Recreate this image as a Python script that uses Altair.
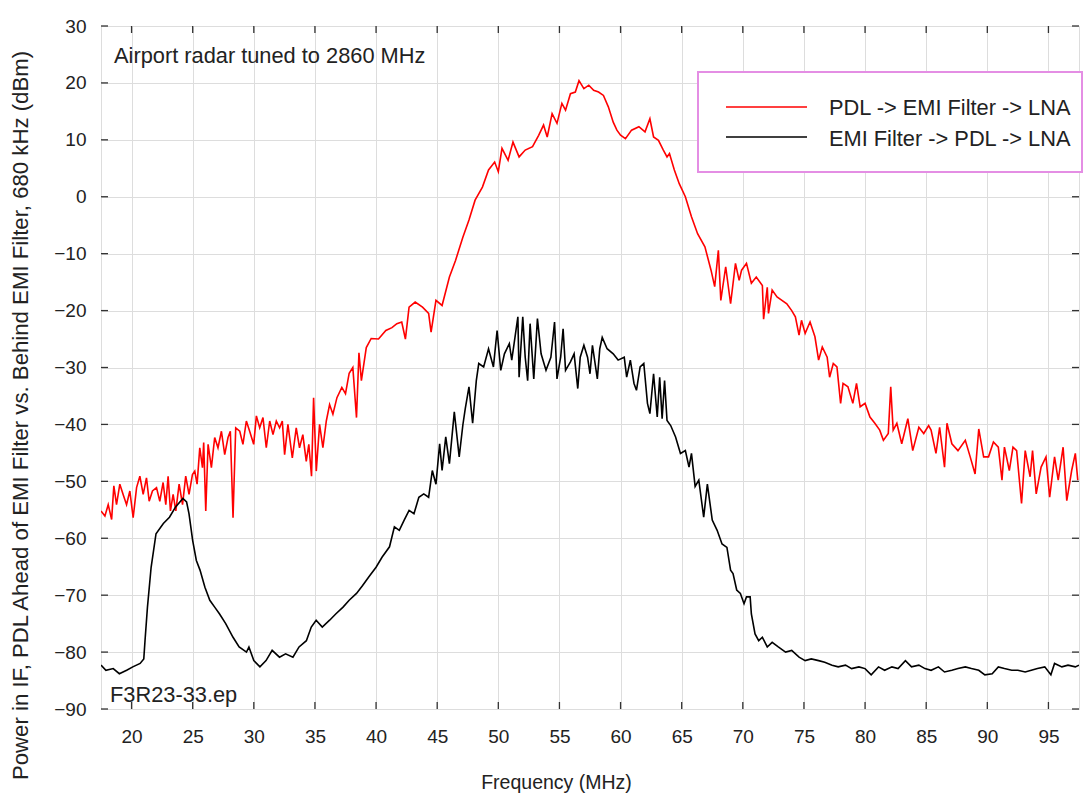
import altair as alt
import pandas as pd

series_names = ["PDL -> EMI Filter -> LNA", "EMI Filter -> PDL -> LNA"]
series_colors = ["#ff0000", "#000000"]

red_freq = [
    17.5, 17.82, 18.09, 18.37, 18.55, 18.77, 19.04, 19.31, 19.59, 19.86,
    20.13, 20.41, 20.68, 20.95, 21.22, 21.44, 21.71, 22.04, 22.31, 22.58,
    22.80, 22.99, 23.18, 23.40, 23.62, 23.89, 24.17, 24.43, 24.70, 24.98,
    25.17, 25.36, 25.58, 25.80, 25.90, 26.07, 26.26, 26.53, 26.80, 27.07,
    27.35, 27.62, 27.89, 28.08, 28.30, 28.52, 28.85, 29.11, 29.39, 29.66,
    29.99, 30.21, 30.48, 30.75, 31.02, 31.30, 31.57, 31.84, 32.11, 32.33,
    32.52, 32.79, 33.15, 33.47, 33.74, 34.01, 34.29, 34.50, 34.72, 34.89,
    35.11, 35.38, 35.65, 35.93, 36.2, 36.47, 36.8,
    37.2, 37.5, 37.8, 38.1, 38.4, 38.6, 38.8, 39.2, 39.6, 40.2,
    40.8, 41.3, 41.7, 42.1, 42.4, 42.7, 43.2, 43.8, 44.3, 44.5,
    44.9, 45.4, 46.0, 46.5, 47.1, 47.6, 48.1, 48.7, 49.2, 49.7,
    50.0, 50.3, 50.8, 51.2, 51.7, 52.2, 52.8, 53.3, 53.7, 54.0,
    54.4, 54.8, 55.2, 55.5, 55.9, 56.3, 56.6, 57.0, 57.4, 57.8,
    58.2, 58.6, 59.0, 59.4, 59.7, 60.0, 60.4, 60.9, 61.5, 62.0,
    62.4, 62.7, 63.1, 63.5, 63.8, 64.0, 64.4, 64.8, 65.3, 65.8,
    66.3, 66.9, 67.4, 67.7, 68.0, 68.2, 68.6, 69.0, 69.4, 69.7,
    69.9, 70.3, 70.7, 71.1, 71.6, 71.7, 72.0, 72.1, 72.4, 72.8,
    73.2, 73.6, 74.0, 74.3, 74.6, 74.8, 75.1, 75.5, 75.9, 76.2,
    76.5, 76.9, 77.1, 77.4, 77.7, 78.0, 78.2, 78.6, 79.0, 79.3,
    79.6, 80.0, 80.4, 80.8, 81.2, 81.5, 81.9, 82.1, 82.3, 82.6,
    83.0, 83.5, 83.9, 84.4, 84.8, 85.2, 85.4, 85.8, 86.1, 86.5,
    86.7, 87.1, 87.6, 88.2, 88.6, 89.0, 89.3, 89.7, 90.1, 90.5,
    90.9, 91.2, 91.4, 91.8, 92.1, 92.4, 92.8, 93.1, 93.5, 93.7,
    94.0, 94.4, 94.8, 95.1, 95.5, 95.8, 96.2, 96.5, 96.9, 97.2, 97.4,
]
red_dbm = [
    -55.2, -56.1, -54.1, -56.7, -50.8, -54.1, -50.5, -52.3, -54.1, -51.7,
    -56.4, -51.1, -49.1, -52.3, -49.4, -53.5, -51.7, -51.1, -53.5, -50.2,
    -54.1, -49.1, -55.2, -52.3, -55.2, -50.5, -54.1, -49.1, -52.3, -48.8,
    -48.2, -50.5, -44.1, -47.6, -43.2, -55.2, -43.5, -47.6, -42.3, -44.1,
    -41.2, -45.3, -42.3, -41.2, -56.4, -40.6, -41.2, -43.5, -39.4, -41.2,
    -43.5, -38.5, -40.6, -38.8, -44.1, -39.4, -41.8, -39.4, -40.6, -39.4,
    -45.3, -40.0, -45.9, -40.6, -44.1, -41.8, -46.5, -43.5, -49.1, -35.3,
    -48.2, -40.0, -44.1, -39.4, -36.5, -38.2, -35.3,
    -33.5, -34.6, -31.0, -30.0, -38.8, -27.4, -32.3, -26.5, -24.9, -25.0,
    -23.5, -23.0, -22.3, -22.0, -25.0, -19.4, -18.5, -19.4, -20.5, -23.8,
    -18.2, -19.1, -14.1, -11.2, -7.1, -4.1, -0.6, 1.7, 4.7, 6.1,
    4.4, 8.5, 6.4, 9.6, 7.0, 8.2, 8.8, 10.8, 12.6, 10.5,
    14.6, 12.9, 16.4, 15.2, 18.1, 18.4, 20.4, 19.0, 19.6, 18.7,
    18.4, 17.8, 15.8, 13.1, 11.7, 10.8, 10.2, 11.7, 12.3, 11.4,
    13.7, 10.5, 9.9, 8.2, 7.0, 7.6, 4.7, 2.3, 0.0, -3.5,
    -6.5, -8.8, -12.9, -15.8, -9.4, -18.2, -12.3, -18.8, -11.7, -14.7,
    -12.9, -11.7, -15.2, -14.1, -15.6, -21.5, -15.9, -20.5, -16.4, -17.6,
    -18.2, -18.8, -20.0, -21.1, -24.3, -21.7, -24.0, -22.0, -24.6, -28.7,
    -26.4, -28.2, -31.7, -29.3, -29.9, -36.3, -32.8, -33.4, -36.3, -32.8,
    -36.9, -36.3, -38.7, -39.8, -41.0, -42.8, -41.6, -33.4, -41.0, -39.8,
    -43.4, -39.0, -44.6, -40.5, -41.6, -40.2, -41.0, -45.1, -40.5, -47.5,
    -39.8, -43.4, -44.6, -42.8, -45.7, -48.7, -40.8, -45.7, -45.7, -43.1,
    -44.0, -49.8, -44.0, -48.1, -44.0, -44.6, -53.9, -44.6, -49.2, -44.6,
    -52.2, -47.5, -45.7, -52.8, -45.7, -49.8, -44.0, -53.4, -48.1, -45.1, -49.8,
]

black_freq = [
    17.5, 17.9, 18.5, 19.0, 19.6, 20.1, 20.7, 21.0, 21.1, 21.3,
    21.6, 22.0, 22.6, 23.1, 23.6, 24.2, 24.5, 24.7, 25.0, 25.3,
    25.6, 26.0, 26.4, 26.8, 27.2, 27.7, 28.3, 28.8, 29.4, 29.6,
    30.0, 30.5, 31.0, 31.5, 32.1, 32.6, 33.2, 33.7, 34.3, 34.7,
    35.1, 35.6, 36.2, 36.7, 37.3, 37.8, 38.4, 38.9, 39.4, 40.0,
    40.5, 41.1, 41.5, 41.9, 42.3, 42.7, 43.1, 43.5, 43.9, 44.3,
    44.6, 44.9, 45.2, 45.4, 45.7, 46.0, 46.4, 46.8, 47.1, 47.3,
    47.6, 47.9, 48.2, 48.4, 48.8, 49.2, 49.6, 49.9, 50.2, 50.5,
    50.9, 51.1, 51.6, 51.7, 52.0, 52.2, 52.4, 52.6, 52.9, 53.2,
    53.5, 53.9, 54.3, 54.6, 54.8, 55.1, 55.3, 55.5, 55.9, 56.2,
    56.5, 56.7, 57.0, 57.3, 57.5, 57.7, 58.1, 58.3, 58.5, 58.9,
    59.4, 59.8, 60.3, 60.5, 60.8, 61.1, 61.3, 61.6, 61.9, 62.2,
    62.4, 62.7, 63.0, 63.2, 63.4, 63.6, 63.8, 64.1, 64.5, 64.9,
    65.3, 65.6, 65.8, 66.1, 66.4, 66.8, 67.1, 67.5, 67.9, 68.3,
    68.7, 69.0, 69.2, 69.5, 69.8, 70.1, 70.3, 70.6, 70.7, 71.0,
    71.3, 71.6, 72.0, 72.4, 72.9, 73.5, 74.0, 74.6, 75.1, 75.6,
    76.2, 76.7, 77.3, 77.8, 78.4, 78.9, 79.5, 80.0, 80.5, 81.1,
    81.6, 82.2, 82.7, 83.3, 83.8, 84.4, 84.9, 85.4, 86.0, 86.5,
    87.1, 87.6, 88.2, 88.7, 89.3, 89.8, 90.4, 90.9, 91.4, 92.0,
    92.5, 93.1, 93.6, 94.1, 94.7, 95.2, 95.5, 96.1, 96.6, 97.2, 97.5,
]
black_dbm = [
    -82.3, -83.2, -82.9, -83.8, -83.2, -82.6, -82.0, -81.2, -78.0, -72.1,
    -65.1, -59.2, -57.4, -56.3, -54.5, -53.0, -53.6, -55.7, -60.4, -63.9,
    -65.6, -68.6, -70.9, -72.1, -73.3, -75.0, -77.4, -79.1, -80.0, -79.1,
    -81.5, -82.6, -81.5, -79.7, -80.9, -80.3, -80.9, -79.1, -78.0, -75.6,
    -74.4, -75.6, -74.4, -73.3, -72.1, -70.9, -69.7, -68.3, -66.8, -65.1,
    -63.3, -61.5, -58.0, -58.6, -56.8, -55.1, -55.7, -52.8, -52.2, -52.8,
    -48.1, -50.5, -43.4, -48.1, -42.2, -46.9, -37.8, -45.7, -40.1, -37.2,
    -33.4, -39.8, -32.3, -29.3, -29.9, -26.7, -29.9, -23.5, -30.5, -27.6,
    -25.8, -28.7, -21.1, -31.7, -21.1, -28.2, -32.3, -22.3, -32.0, -21.4,
    -27.6, -30.5, -28.2, -22.0, -32.0, -28.2, -23.2, -30.5, -29.0, -27.6,
    -33.7, -28.2, -26.1, -28.2, -31.1, -26.1, -32.0, -26.7, -24.7, -26.7,
    -27.6, -28.7, -28.2, -31.7, -28.7, -32.8, -34.0, -29.9, -29.3, -36.3,
    -38.1, -31.1, -38.7, -31.7, -39.0, -32.3, -39.3, -40.2, -42.2, -45.1,
    -44.6, -47.5, -45.1, -50.9, -49.8, -56.3, -50.5, -56.8, -58.6, -61.0,
    -61.6, -65.6, -66.2, -69.1, -69.7, -71.5, -70.3, -70.3, -73.3, -76.8,
    -78.0, -77.4, -79.1, -78.3, -79.1, -80.0, -79.7, -80.9, -81.5, -81.2,
    -81.5, -81.8, -82.3, -82.6, -82.3, -82.9, -82.6, -82.9, -84.0, -82.6,
    -83.2, -82.6, -82.9, -81.5, -82.6, -82.3, -82.9, -83.2, -82.6, -83.5,
    -83.2, -82.9, -82.6, -82.9, -83.2, -84.0, -83.8, -82.6, -82.9, -83.2,
    -83.2, -83.5, -83.2, -82.9, -82.6, -84.0, -82.0, -82.6, -82.3, -82.6, -82.3,
]

x_ticks = [20, 25, 30, 35, 40, 45, 50, 55, 60, 65, 70, 75, 80, 85, 90, 95]
y_ticks = [-90, -80, -70, -60, -50, -40, -30, -20, -10, 0, 10, 20, 30]

W, H = 978, 683
FONT = "Liberation Sans"
TICK = 7

df = pd.concat([
    pd.DataFrame({"f": red_freq, "p": red_dbm, "s": series_names[0]}),
    pd.DataFrame({"f": black_freq, "p": black_dbm, "s": series_names[1]}),
])

x_scale = alt.Scale(domain=[17.5, 97.5], nice=False, zero=False)
y_scale = alt.Scale(domain=[-90, 30], nice=False, zero=False)

x_axis = alt.Axis(
    values=x_ticks, title="Frequency (MHz)", grid=True, ticks=False, domain=False,
    labelFontSize=19, labelFont=FONT, labelColor="#222", labelPadding=18,
    titleFontSize=19.5, titleFont=FONT, titleColor="#222", titleFontWeight="normal",
    titleX=455, titleY=79, titleBaseline="alphabetic", titleAlign="center",
)
y_axis = alt.Axis(
    values=y_ticks, title="Power in IF, PDL Ahead of EMI Filter vs. Behind EMI Filter, 680 kHz (dBm)",
    grid=True, ticks=False, domain=False,
    labelFontSize=19, labelFont=FONT, labelColor="#222", labelPadding=15,
    titleFontSize=22.2, titleFont=FONT, titleColor="#222", titleFontWeight="normal",
    titleX=-81, titleY=389, titleBaseline="middle", titleAlign="center", titleAngle=270,
)

lines = alt.Chart(df).mark_line(strokeWidth=1.6, clip=True).encode(
    x=alt.X("f:Q", scale=x_scale, axis=x_axis),
    y=alt.Y("p:Q", scale=y_scale, axis=y_axis),
    color=alt.Color("s:N", scale=alt.Scale(domain=series_names, range=series_colors), legend=None),
)

xt = pd.DataFrame({"f": x_ticks})
yt = pd.DataFrame({"p": y_ticks})
tick_style = dict(color="#333", strokeWidth=1.3)
bottom_ticks = alt.Chart(xt).mark_rule(**tick_style).encode(
    x=alt.X("f:Q", scale=x_scale, axis=x_axis), y=alt.value(H), y2=alt.value(H - TICK))
top_ticks = alt.Chart(xt).mark_rule(**tick_style).encode(
    x=alt.X("f:Q", scale=x_scale, axis=x_axis), y=alt.value(0), y2=alt.value(TICK))
left_ticks = alt.Chart(yt).mark_rule(**tick_style).encode(
    y=alt.Y("p:Q", scale=y_scale, axis=y_axis), x=alt.value(0), x2=alt.value(TICK))
right_ticks = alt.Chart(yt).mark_rule(**tick_style).encode(
    y=alt.Y("p:Q", scale=y_scale, axis=y_axis), x=alt.value(W), x2=alt.value(W - TICK))

one = pd.DataFrame({"a": [0]})
legend_box = alt.Chart(one).mark_rect(fill="white", stroke="#e48ee4", strokeWidth=2).encode(
    x=alt.value(597), x2=alt.value(981), y=alt.value(46), y2=alt.value(146))
leg_red = alt.Chart(one).mark_rule(color=series_colors[0], strokeWidth=1.6).encode(
    x=alt.value(625), x2=alt.value(706), y=alt.value(81))
leg_black = alt.Chart(one).mark_rule(color=series_colors[1], strokeWidth=1.6).encode(
    x=alt.value(625), x2=alt.value(706), y=alt.value(111))
txt_style = dict(align="left", baseline="alphabetic", font=FONT, fontSize=21.8, color="#222")
leg_red_t = alt.Chart(one).mark_text(**txt_style).encode(
    x=alt.value(728), y=alt.value(89), text=alt.value(series_names[0]))
leg_black_t = alt.Chart(one).mark_text(**txt_style).encode(
    x=alt.value(728), y=alt.value(120), text=alt.value(series_names[1]))
note_top = alt.Chart(one).mark_text(**txt_style).encode(
    x=alt.value(13), y=alt.value(37), text=alt.value("Airport radar tuned to 2860 MHz"))
note_bottom = alt.Chart(one).mark_text(**txt_style).encode(
    x=alt.value(9), y=alt.value(676), text=alt.value("F3R23-33.ep"))

chart = alt.layer(
    lines, bottom_ticks, top_ticks, left_ticks, right_ticks,
    legend_box, leg_red, leg_black, leg_red_t, leg_black_t, note_top, note_bottom,
).properties(
    width=W, height=H,
    autosize=alt.AutoSizeParams(type="none"),
    padding={"left": 101, "top": 26, "right": 5, "bottom": 90},
).configure_view(
    stroke="#333", strokeWidth=1.5,
).configure_axis(
    gridColor="#888", gridDash=[1, 2], gridWidth=1, gridOpacity=1,
).configure(background="white")

chart.save("out.html", embed_options={"renderer": "svg", "actions": False})
